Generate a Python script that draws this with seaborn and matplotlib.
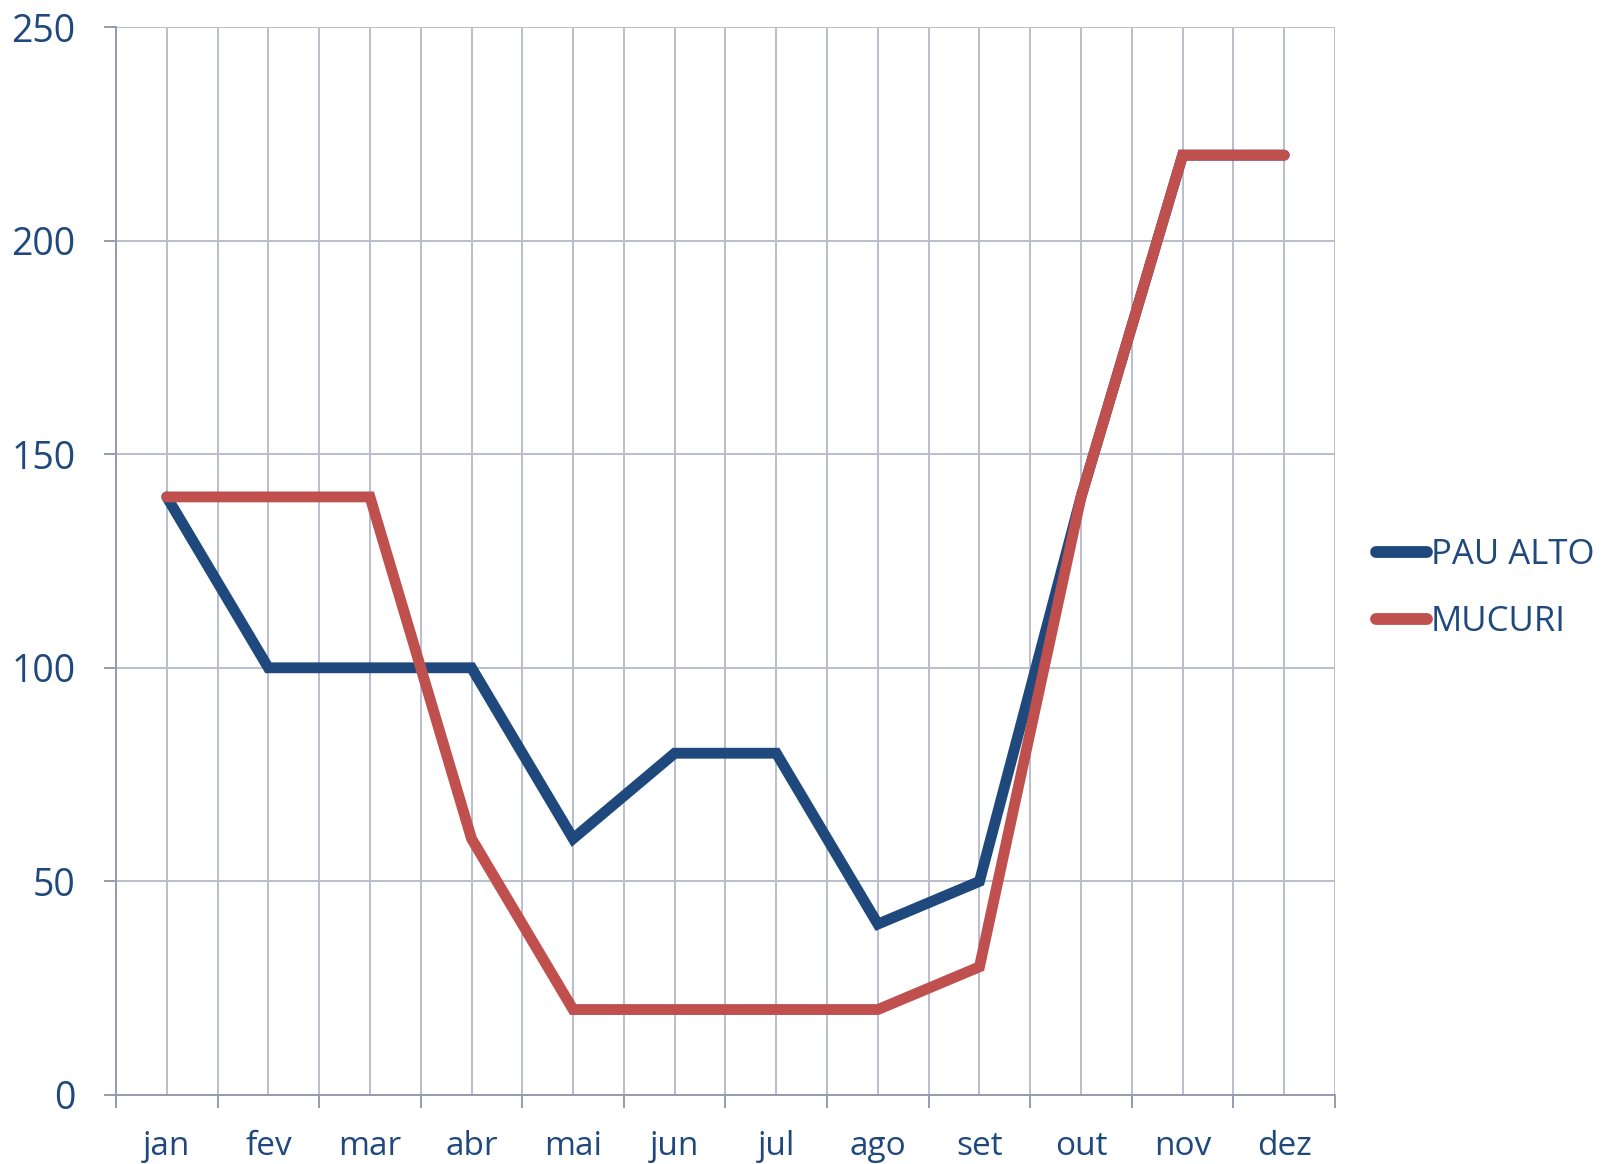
import matplotlib
matplotlib.use("Agg")
import matplotlib.pyplot as plt
import seaborn as sns
import pandas as pd
import numpy as np

months = ["jan", "fev", "mar", "abr", "mai", "jun", "jul", "ago", "set", "out", "nov", "dez"]
pau_alto = [140, 100, 100, 100, 60, 80, 80, 40, 50, 140, 220, 220]
mucuri = [140, 140, 140, 60, 20, 20, 20, 20, 30, 140, 220, 220]
series_names = ["PAU ALTO", "MUCURI"]
colors = ["#1F497D", "#C0504D"]

df = pd.DataFrame({
    "pos": list(range(len(months))) * 2,
    "valor": pau_alto + mucuri,
    "serie": [series_names[0]] * len(months) + [series_names[1]] * len(months),
})

sns.set_style("white")
plt.rcParams["font.family"] = ["Open Sans", "DejaVu Sans"]

text_color = "#1F497D"
grid_color = "#B9BDCC"
axis_color = "#959BB0"

fig = plt.figure(figsize=(16.04, 11.64), dpi=100)
ax = fig.add_axes([0.0723, 0.0593, 0.7600, 0.9175])

sns.lineplot(data=df, x="pos", y="valor", hue="serie", palette=colors,
             linewidth=7.8, sort=False, ax=ax, legend=True)
for line in ax.get_lines():
    line.set_solid_capstyle("round")
    line.set_solid_joinstyle("miter")

ax.set_xlim(-0.5, len(months) - 0.5)
ax.set_ylim(0, 250)
ax.set_yticks(range(0, 251, 50))

# category boundaries get the tick marks, centres carry the labels
ax.set_xticks(np.arange(-0.5, len(months), 1.0))
ax.set_xticklabels([])
ax.set_xticks(range(len(months)), minor=True)
ax.set_xticklabels(months, minor=True)

ax.tick_params(axis="x", which="major", length=9, width=1.4, color=axis_color, direction="out")
ax.tick_params(axis="x", which="minor", length=0, pad=25, labelsize=24, labelcolor=text_color)
ax.tick_params(axis="y", which="major", length=9, width=1.4, color=axis_color,
               pad=20, labelsize=27, labelcolor=text_color)
ax.tick_params(left=True, bottom=True)

ax.grid(True, which="both", axis="x", color=grid_color, linewidth=1.4)
ax.grid(True, which="major", axis="y", color=grid_color, linewidth=1.4)
ax.set_axisbelow(True)

for side in ["top", "right"]:
    ax.spines[side].set_visible(False)
for side in ["left", "bottom"]:
    ax.spines[side].set_color(axis_color)
    ax.spines[side].set_linewidth(1.4)

ax.set_xlabel("")
ax.set_ylabel("")

handles, labels = ax.get_legend_handles_labels()
for h in handles:
    h.set_solid_capstyle("round")
    h.set_linewidth(8.5)
leg = ax.legend(handles, labels, loc="center left", bbox_to_anchor=(0.8495, 0.494),
                bbox_transform=fig.transFigure, frameon=False, fontsize=25,
                handlelength=1.45, handletextpad=0.12, labelspacing=0.95, borderaxespad=0)
for t in leg.get_texts():
    t.set_color(text_color)

fig.savefig("out.png", dpi=100)
